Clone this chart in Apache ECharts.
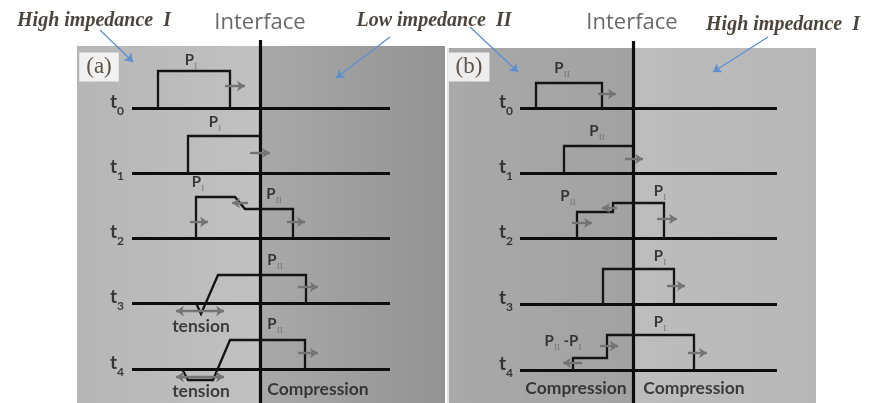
<!DOCTYPE html>
<html><head><meta charset="utf-8">
<script src="https://cdn.jsdelivr.net/npm/echarts@6/dist/echarts.min.js"></script>
<style>html,body{margin:0;padding:0;background:#fff}#c{width:871px;height:403px}</style>
</head><body><div id="c"></div>
<script>
// ---- data (diagram values, in the chart's own axis units) ----
const rowDigits = ['0','1','2','3','4'];
const rowYA = [108,173,238,303,369];
const rowYB = [108,173,238,304,370];
const interfaceX = [260, 633];
const baselineSpanA = [132, 390];
const baselineSpanB = [520, 777];
// pulse outlines: [x, height above the row baseline]
const pulsesA = [
  [[158,0],[158,37],[230,37],[230,0]],
  [[188,0],[188,37],[260,37]],
  [[196,0],[196,41],[235,41],[245,29],[293,29],[293,0]],
  [[196,0],[201,-11],[218,28],[306,28],[306,0]],
  [[182,0],[188,-11],[213,-11],[230,29],[305,29],[305,0]]
];
const pulsesB = [
  [[536,0],[536,25],[602,25],[602,0]],
  [[564,0],[564,27],[633,27]],
  [[577,0],[577,26],[613,26],[613,35],[664,35],[664,0]],
  [[603,0],[603,35],[674,35],[674,0]],
  [[573,0],[573,12],[607,12],[607,35],[694,35],[694,0]]
];
// propagation arrows: [row, xFrom, xTo, height, doubleHeaded]
const arrowsA = [
  [0,225,245,22,0],[1,250,270,20,0],
  [2,190,208,16,0],[2,248,232,35,0],[2,287,305,16,0],
  [3,298,318,16,0],[3,176,224,-8,1],
  [4,298,318,16,0],[4,176,224,-8,1]
];
const arrowsB = [
  [0,598,616,14,0],[1,625,643,14,0],
  [2,572,592,15,0],[2,617,602,30,0],[2,657,677,19,0],
  [3,667,685,18,0],
  [4,600,618,24,0],[4,582,563,7,0],[4,688,707,17,0]
];
// pulse labels: [x, y, subscript]
const pLabelsA = [[191,62,'I'],[215,124,'I'],[198,184,'I'],[274,196,'II'],[275,262,'II'],[275,326,'II']];
const pLabelsB = [[562,70,'II'],[597,133,'II'],[568,198,'II'],[660,193,'I'],[660,258,'I'],[660,324,'I']];
const diffLabel = [563,343];
const bottomWords = [[201,326,'tension'],[201,391,'tension'],[318,389,'Compression'],[576,388,'Compression'],[694,388,'Compression']];
const headings = [[94,21,'High impedance','I'],[434,21,'Low impedance','II'],[783,25,'High impedance','I']];
const interfaceTitles = [[260,23],[632,23]];
const panelTags = [[99,67,'(a)'],[469,67,'(b)']];
const pointerArrows = [[100,30,133,62],[390,37,336,78],[470,27,518,72],[768,37,713,72]];

// ---- build ----
function grad(c0, c1){return {type:'linear',x:0,y:0,x2:1,y2:0,colorStops:[{offset:0,color:c0},{offset:1,color:c1}]};}
const straight = [];
rowYA.forEach(y=>straight.push({coords:[[baselineSpanA[0],y],[baselineSpanA[1],y]]}));
rowYB.forEach(y=>straight.push({coords:[[baselineSpanB[0],y],[baselineSpanB[1],y]]}));
straight.push({coords:[[interfaceX[0],40],[interfaceX[0],403]]});
straight.push({coords:[[interfaceX[1],41],[interfaceX[1],403]]});

const pulseData = [];
pulsesA.forEach((p,i)=>pulseData.push({coords:p.map(([x,h])=>[x,rowYA[i]-h])}));
pulsesB.forEach((p,i)=>pulseData.push({coords:p.map(([x,h])=>[x,rowYB[i]-h])}));

const single=[], dbl=[];
function addArrows(list, rows){list.forEach(([r,x1,x2,h,d])=>{const y=rows[r]-h;(d?dbl:single).push({coords:[[x1,y],[x2,y]]});});}
addArrows(arrowsA,rowYA); addArrows(arrowsB,rowYB);

const rich = {
  p:{fontFamily:'Lato',fontWeight:'bold',fontSize:15,color:'#161616',verticalAlign:'bottom',padding:[0,0,3,0]},
  s:{fontFamily:'Liberation Serif',fontSize:9,color:'#6a6a6a',verticalAlign:'bottom'},
  t:{fontFamily:'Lato',fontWeight:'bold',fontSize:19,color:'#161616',verticalAlign:'bottom',padding:[0,0,6,0]},
  d:{fontFamily:'Lato',fontWeight:'bold',fontSize:12,color:'#161616',verticalAlign:'bottom'},
  w:{fontFamily:'Lato',fontWeight:'bold',fontSize:17.5,color:'#1a1a1a'},
  h:{fontFamily:'Liberation Serif',fontWeight:'bold',fontStyle:'italic',fontSize:20,color:'#1e150b'},
  f:{fontFamily:'Open Sans',fontSize:22,color:'#444444'},
  g:{fontFamily:'Liberation Serif',fontSize:23,color:'#3b2a1c',backgroundColor:'#ffffff',padding:[3,7,3,7]}
};
const texts = [];
function T(x,y,fmt){texts.push({value:[x,y],label:{formatter:fmt}});}
rowDigits.forEach((d,i)=>{T(117,rowYA[i]-3,'{t|t}{d|'+d+'}');T(506,rowYB[i]-3,'{t|t}{d|'+d+'}');});
pLabelsA.concat(pLabelsB).forEach(([x,y,s])=>T(x,y,'{p|P}{s|'+s+'}'));
T(diffLabel[0],diffLabel[1],'{p|P}{s|II}{p| -P}{s|I}');
bottomWords.forEach(([x,y,w])=>T(x,y,'{w|'+w+'}'));
headings.forEach(([x,y,a,b])=>T(x,y,'{h|'+a+'  '+b+'}'));
interfaceTitles.forEach(([x,y])=>T(x,y,'{f|Interface}'));
panelTags.forEach(([x,y,s])=>T(x,y,'{g|'+s+'}'));

const option = {
  animation:false,
  backgroundColor:'#ffffff',
  grid:{left:0,right:0,top:0,bottom:0},
  xAxis:{type:'value',min:0,max:871,show:false},
  yAxis:{type:'value',min:0,max:403,inverse:true,show:false},
  series:[
    {type:'scatter',data:[],z:1,silent:true,
     markArea:{silent:true,data:[
       [{xAxis:77,yAxis:46,itemStyle:{color:grad('#b6b6b6','#c1c1c1')}},{xAxis:260,yAxis:403}],
       [{xAxis:260,yAxis:46,itemStyle:{color:grad('#a9a9a9','#939393')}},{xAxis:445,yAxis:403}],
       [{xAxis:447,yAxis:48,itemStyle:{color:'#e4e4e4'}},{xAxis:449,yAxis:403}],
       [{xAxis:449,yAxis:48,itemStyle:{color:grad('#a9a9a9','#a2a2a2')}},{xAxis:633,yAxis:403}],
       [{xAxis:633,yAxis:48,itemStyle:{color:grad('#bdbdbd','#b7b7b7')}},{xAxis:816,yAxis:403}]
     ]}},
    {type:'lines',coordinateSystem:'cartesian2d',z:3,silent:true,data:straight,
     lineStyle:{color:'#0d0d0d',width:3.2,opacity:1}},
    {type:'lines',coordinateSystem:'cartesian2d',polyline:true,z:4,silent:true,data:pulseData,
     lineStyle:{color:'#141414',width:2.3,opacity:1}},
    {type:'lines',coordinateSystem:'cartesian2d',z:5,silent:true,data:single,
     symbol:['none','arrow'],symbolSize:8,lineStyle:{color:'#747474',width:2.4,opacity:1}},
    {type:'lines',coordinateSystem:'cartesian2d',z:5,silent:true,data:dbl,
     symbol:['arrow','arrow'],symbolSize:8,lineStyle:{color:'#747474',width:2.4,opacity:1}},
    {type:'lines',coordinateSystem:'cartesian2d',z:5,silent:true,
     data:pointerArrows.map(([a,b,c,d])=>({coords:[[a,b],[c,d]]})),
     symbol:['none','arrow'],symbolSize:8,lineStyle:{color:'#5a8fd2',width:1.3,opacity:1}},
    {type:'scatter',z:6,silent:true,symbolSize:0,itemStyle:{color:'transparent'},data:texts,
     label:{show:true,position:'inside',align:'center',verticalAlign:'middle',rich:rich}}
  ]
};
const chart = echarts.init(document.getElementById('c'),null,{renderer:'canvas'});
chart.setOption(option);
</script></body></html>
